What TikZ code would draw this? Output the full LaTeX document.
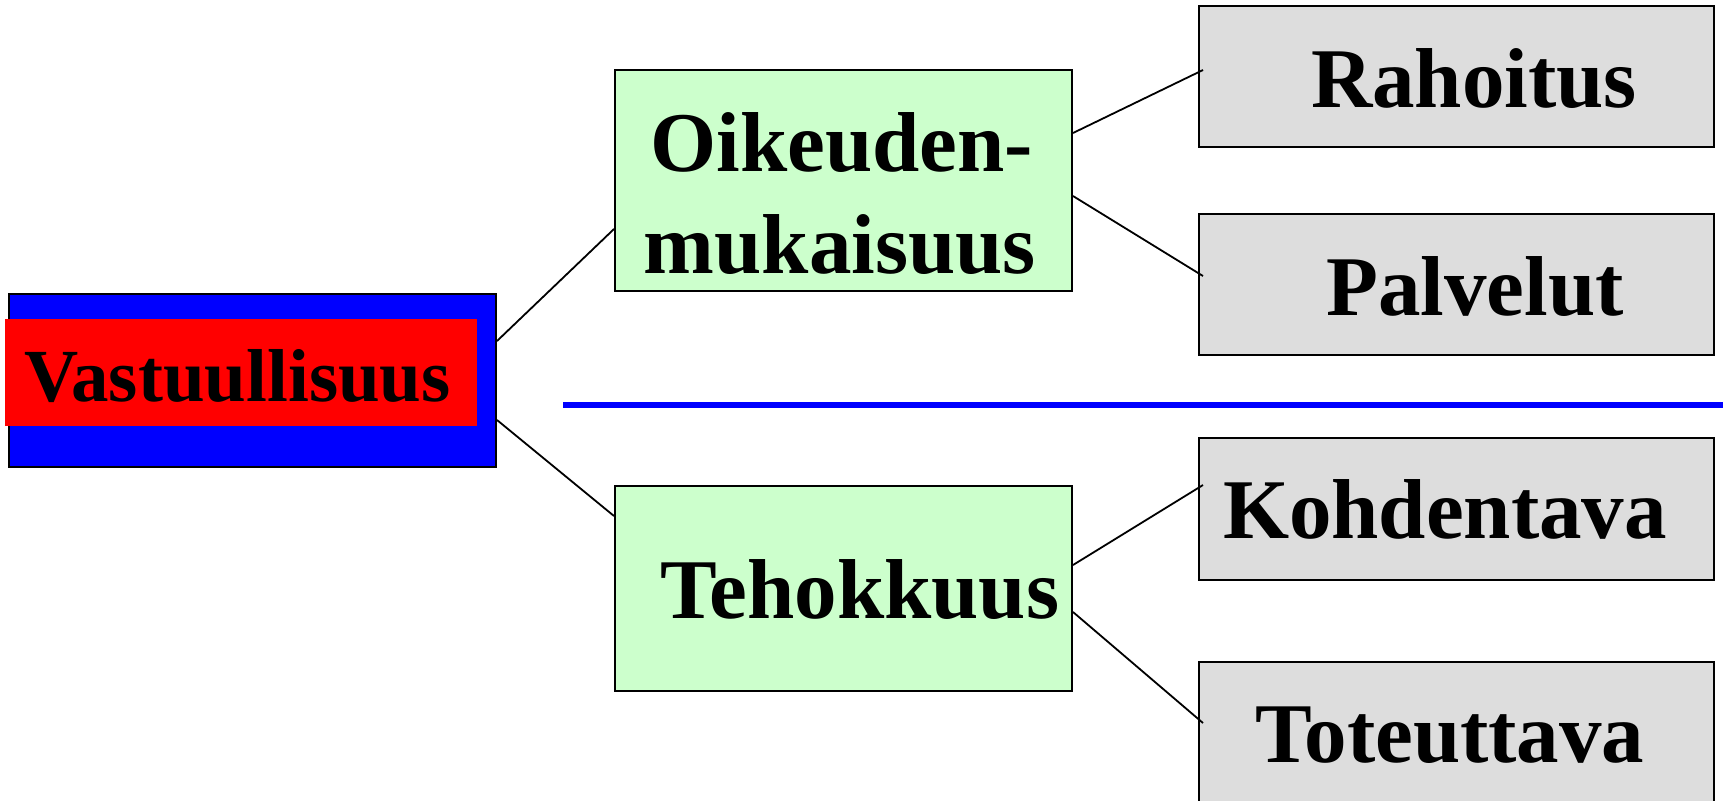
\documentclass[tikz,border=0pt]{standalone}
\usepackage{fontspec}
\setmainfont{Liberation Serif}
\usetikzlibrary{fit,calc}
\definecolor{gfill}{HTML}{CCFFCC}
\definecolor{grayfill}{HTML}{DDDDDD}
\begin{document}
\begin{tikzpicture}[x=0.5pt,y=-0.5pt,
  box/.style={draw=black, line width=1pt, inner sep=0pt},
  greenbox/.style={box, fill=gfill},
  graybox/.style={box, fill=grayfill},
  lbl/.style={anchor=base, inner sep=0pt, font=\bfseries\fontsize{42.5}{51}\selectfont},
  conn/.style={draw=black, line width=0.9pt},
  sep/.style={draw=blue, line width=3pt}]
\useasboundingbox (0,0) rectangle (1723,800);
% root
\node[box, fill=blue, fit={(9,294)(496,467)}] (v) {};
\node[fill=red, inner sep=0pt, fit={(5,319)(477,426)}] (vr) {};
\node[lbl, font=\bfseries\fontsize{37.5}{45}\selectfont] (vt) at (237.5,401) {Vastuullisuus};
% middle
\node[greenbox, fit={(615,70)(1072,291)}] (oik) {};
\node[lbl] (oikt1) at (842,171) {Oikeuden-};
\node[lbl] (oikt2) at (840,273) {mukaisuus};
\node[greenbox, fit={(615,486)(1072,691)}] (teh) {};
\node[lbl] (teht) at (860,618) {Tehokkuus};
% right
\node[graybox, fit={(1199,6)(1714,147)}] (rah) {};
\node[lbl] (raht) at (1474,107) {Rahoitus};
\node[graybox, fit={(1199,214)(1714,355)}] (pal) {};
\node[lbl] (palt) at (1475,315) {Palvelut};
\node[graybox, fit={(1199,438)(1714,580)}] (koh) {};
\node[lbl] (koht) at (1445,538) {Kohdentava};
\node[graybox, fit={(1199,662)(1714,840)}] (tot) {};
\node[lbl] (tott) at (1450,762) {Toteuttava};
% separator
\coordinate (sepL) at (563,405);
\coordinate (sepR) at (1723,405);
\draw[sep] (sepL) -- (sepR);
% connectors
\draw[conn] (v.east |- 0,341) -- (oik.west |- 0,229);
\draw[conn] (v.east |- 0,420) -- (teh.west |- 0,516);
\draw[conn] (oik.east |- 0,133) -- ($(rah.west |- 0,70)+(5,0)$);
\draw[conn] (oik.east |- 0,196) -- ($(pal.west |- 0,276)+(5,0)$);
\draw[conn] (teh.east |- 0,565) -- ($(koh.west |- 0,485)+(5,0)$);
\draw[conn] (teh.east |- 0,612) -- ($(tot.west |- 0,723)+(5,0)$);
\end{tikzpicture}
\end{document}
